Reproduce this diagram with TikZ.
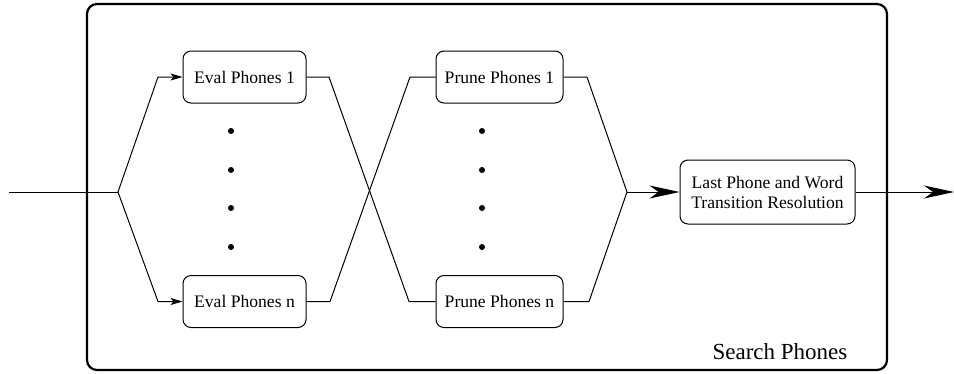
\documentclass[tikz,border=0pt]{standalone}
\usepackage{fontspec}
\setmainfont{Liberation Serif}
\usetikzlibrary{arrows.meta}
\begin{document}
\begin{tikzpicture}[x=1pt,y=-1pt,
  every node/.style={font=\fontsize{17.6}{20}\selectfont},
  box/.style={draw,line width=1pt,rounded corners=8pt,minimum height=52pt,inner sep=0pt,align=center},
  wire/.style={line width=1pt},
  smallarr/.style={wire,-{Stealth[length=12pt,width=7pt,inset=3pt]}},
  bigarr/.style={wire,-{Stealth[length=30pt,width=13pt,inset=9pt]}},
  dot/.style={circle,fill=black,inner sep=0pt,minimum size=6pt}]
\useasboundingbox (0,0) rectangle (954,373);
\draw[line width=2.2pt,rounded corners=10pt] (87,4) rectangle (887,370);
\node[font=\fontsize{23}{26}\selectfont,anchor=base] (search) at (780,359) {Search Phones};
% nodes
\node[box,minimum width=123pt] (e1) at (244.5,77) {Eval Phones 1};
\node[box,minimum width=123pt] (en) at (244.5,301.5) {Eval Phones n};
\node[box,minimum width=127pt] (p1) at (499.5,77) {Prune Phones 1};
\node[box,minimum width=127pt] (pn) at (499.5,301.5) {Prune Phones n};
\node[box,minimum width=175pt,minimum height=64pt] (last) at (767.5,192) {Last Phone and Word\\Transition Resolution};
\foreach \i/\y in {1/131,2/170,3/208,4/247}{
  \node[dot] (ed\i) at (231,\y) {};
  \node[dot] (pd\i) at (482,\y) {};
}
% coordinates
\coordinate (in) at (9,192);
\coordinate (split) at (118,192);
\coordinate (join) at (627,192);
\coordinate (out) at (954,192);
% wires
\draw[wire] (in) -- (split);
\draw[smallarr] (split) -- (158,77) -- (e1.west);
\draw[smallarr] (split) -- (158,301.5) -- (en.west);
\draw[wire] (e1.east) -- (329,77) -- (409,301.5) -- (pn.west);
\draw[wire] (en.east) -- (330,301.5) -- (410,77) -- (p1.west);
\draw[wire] (p1.east) -- (587,77) -- (join);
\draw[wire] (pn.east) -- (589,301.5) -- (join);
\draw[bigarr] (join) -- (last.west);
\draw[bigarr] (last.east) -- (out);
\end{tikzpicture}
\end{document}
